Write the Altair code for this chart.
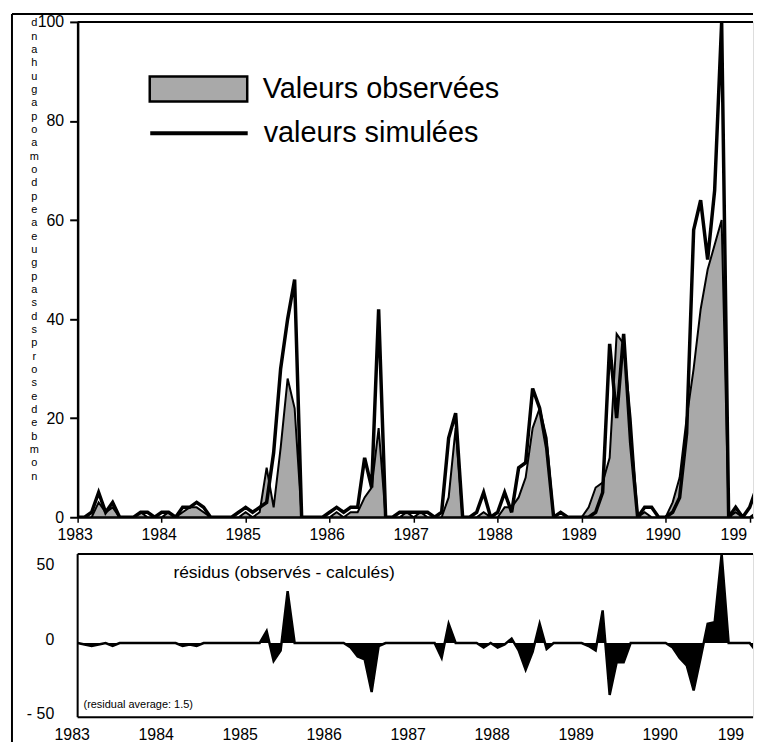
import altair as alt
import pandas as pd

# ---------------- data (monthly, Jan 1983 = month 0) ----------------
months = list(range(98))

simulated = [
    0, 0, 1, 5, 1, 3, 0, 0, 0, 1, 1, 0,
    1, 1, 0, 2, 2, 3, 2, 0, 0, 0, 0, 1,
    2, 1, 2, 3, 13, 30, 40, 48, 0, 0, 0, 0,
    1, 2, 1, 2, 2, 12, 6, 42, 0, 0, 1, 1,
    1, 1, 1, 0, 1, 16, 21, 0, 0, 1, 5, 0,
    1, 5, 1, 10, 11, 26, 22, 14, 0, 1, 0, 0,
    0, 0, 1, 5, 35, 20, 37, 15, 0, 2, 2, 0,
    0, 1, 4, 17, 58, 64, 52, 66, 100, 0, 2, 0,
    2, 6,
]

observed = [
    0, 0, 0, 3, 1, 2, 0, 0, 0, 1, 0, 0,
    0, 1, 0, 1, 2, 2, 1, 0, 0, 0, 0, 0,
    1, 0, 1, 10, 2, 14, 28, 22, 0, 0, 0, 0,
    0, 1, 0, 1, 1, 4, 6, 18, 0, 0, 0, 1,
    0, 1, 0, 0, 0, 4, 18, 0, 0, 0, 1, 0,
    0, 2, 2, 4, 8, 18, 22, 16, 0, 0, 0, 0,
    0, 2, 6, 7, 12, 37, 35, 20, 0, 1, 0, 0,
    0, 3, 8, 20, 30, 42, 50, 55, 60, 0, 1, 0,
    0, 1,
]

residuals = [
    0, -1, -2, -1, 0, -2, 0, 0, 0, 0, 0, 0,
    0, 0, 0, -2, -1, -2, 0, 0, 0, 0, 0, 0,
    0, 0, 0, 8, -12, -5, 35, 0, 0, 0, 0, 0,
    0, 0, 0, -3, -9, -11, -33, -2, 0, 0, 0, 0,
    0, 0, 0, 0, -10, 13, 0, 0, 0, 0, -3, 0,
    -3, -1, 3, -5, -18, -6, 13, -4, 0, 0, 0, 0,
    0, -2, -5, 22, -35, -13, -13, 0, 0, 0, 0, 0,
    0, -3, -10, -15, -32, -10, 13, 14, 60, 0, 0, 0,
    0, -6,
]

year_ticks = [1983, 1984, 1985, 1986, 1987, 1988, 1989, 1990, 1991]
top_y_ticks = [0, 20, 40, 60, 80, 100]
res_y_ticks = [-50, 0, 50]

obs_label = "Valeurs observées"
sim_label = "valeurs simulées"
res_title = "résidus (observés - calculés)"
res_note = "(residual average: 1.5)"

# vertical, letter-stacked y title as it appears on the scan
y_title_letters = list("dnahugapoamodpeaeugpasdsprosedebmon")

# ---------------- build ----------------
FONT = "Liberation Sans"
t = [1983 + m / 12 for m in months]
df = pd.DataFrame({"t": t, "obs": observed, "sim": simulated, "res": residuals,
                   "obs_s": obs_label, "sim_s": sim_label})

xscale = alt.Scale(domain=[1983, 1991.04], nice=False, zero=False)
W = 679
H_TOP = 498
H_RES = 164

last_label = "datum.value == 1991 ? '199' : datum.label"
last_align = {"condition": {"test": "datum.value == 1991", "value": "right"}, "value": "center"}

top_x_axis = alt.Axis(values=year_ticks, format="d", title=None, grid=False,
                      labelExpr=last_label, labelAlign=last_align,
                      labelFontSize=16, labelFont=FONT, labelColor="black",
                      tickSize=5, tickWidth=1.5, tickColor="black",
                      domainWidth=2, domainColor="black", labelPadding=4,
                      labelOffset=-3)

top_y_axis = alt.Axis(values=top_y_ticks, grid=False, title=y_title_letters,
                      titleAngle=0, titleX=-44, titleY=-5, titleBaseline="top",
                      titleAlign="center", titleFontSize=11, titleLineHeight=13.4,
                      titleFontWeight="normal", titleFont=FONT, titleColor="black",
                      labelFontSize=16, labelFont=FONT, labelColor="black",
                      tickSize=8, tickWidth=2, tickColor="black",
                      domainWidth=2.5, domainColor="black", labelPadding=6)

yscale_top = alt.Scale(domain=[0, 100], nice=False)

base = alt.Chart(df)

area = base.mark_area(stroke="black", strokeWidth=2, opacity=1, clip=True).encode(
    x=alt.X("t:Q", scale=xscale, axis=top_x_axis),
    y=alt.Y("obs:Q", scale=yscale_top, axis=top_y_axis),
    fill=alt.Fill("obs_s:N", scale=alt.Scale(range=["#a9a9a9"]),
                  legend=alt.Legend(title=None, orient="none", legendX=71, legendY=17,
                                    symbolType="M-1,-0.255H1V0.255H-1Z", symbolSize=9604,
                                    symbolStrokeColor="black", symbolStrokeWidth=2.5,
                                    labelFontSize=29, labelFont=FONT, labelColor="black",
                                    labelOffset=14, labelLimit=400, padding=0)),
)

line = base.mark_line(strokeWidth=3.5, clip=True).encode(
    x=alt.X("t:Q", scale=xscale),
    y=alt.Y("sim:Q", scale=yscale_top),
    stroke=alt.Stroke("sim_s:N", scale=alt.Scale(range=["black"]),
                      legend=alt.Legend(title=None, orient="none", legendX=71, legendY=61,
                                        symbolType="stroke", symbolSize=9604,
                                        symbolStrokeWidth=4,
                                        labelFontSize=29, labelFont=FONT, labelColor="black",
                                        labelOffset=14, labelLimit=400, padding=0)),
)

one = alt.Chart(pd.DataFrame({"k": [0]}))
# page border of the scan and the plot frame top
frame_left = one.mark_rule(color="black", strokeWidth=2).encode(
    x=alt.value(-66), y=alt.value(-8), y2=alt.value(724))
frame_top = one.mark_rule(color="black", strokeWidth=2).encode(
    x=alt.value(-66), x2=alt.value(W), y=alt.value(-8))
plot_top = one.mark_rule(color="black", strokeWidth=2).encode(
    x=alt.value(0), x2=alt.value(W), y=alt.value(0))

top = alt.layer(area, line, frame_left, frame_top, plot_top).properties(
    width=W, height=H_TOP)

# ---------------- residual panel ----------------
yscale_res = alt.Scale(domain=[-50, 60], nice=False)
res_x_axis = alt.Axis(values=year_ticks, format="d", title=None, grid=False,
                      labelExpr=last_label, labelAlign=last_align,
                      labelFontSize=16, labelFont=FONT, labelColor="black",
                      ticks=False, domain=False, labelPadding=9, labelOffset=-6)
res_y_axis = alt.Axis(values=res_y_ticks, title=None, grid=False,
                      labelExpr="datum.value < 0 ? '- ' + abs(datum.value) : datum.label",
                      labelFontSize=16, labelFont=FONT, labelColor="black",
                      ticks=False, domain=False, labelPadding=24, labelOffset=-4)

res_area = base.mark_area(color="black", opacity=1, clip=True).encode(
    x=alt.X("t:Q", scale=xscale, axis=res_x_axis),
    y=alt.Y("res:Q", scale=yscale_res, axis=res_y_axis),
)
res_line = base.mark_line(color="black", strokeWidth=2.5, clip=True).encode(
    x=alt.X("t:Q", scale=xscale),
    y=alt.Y("res:Q", scale=yscale_res),
)

ann = pd.DataFrame({"t": [1984.14, 1983.07], "v": [47.5, -41.5],
                    "label": [res_title, res_note]})
ann_title = alt.Chart(ann.iloc[[0]]).mark_text(align="left", baseline="middle",
                                               font=FONT, fontSize=17.5, color="black").encode(
    x="t:Q", y="v:Q", text="label:N")
ann_note = alt.Chart(ann.iloc[[1]]).mark_text(align="left", baseline="middle",
                                              font=FONT, fontSize=11, color="black").encode(
    x="t:Q", y="v:Q", text="label:N")

res_top = one.mark_rule(color="black", strokeWidth=2).encode(
    x=alt.value(0), x2=alt.value(W), y=alt.value(0))
res_bottom = one.mark_rule(color="black", strokeWidth=2).encode(
    x=alt.value(0), x2=alt.value(W), y=alt.value(H_RES))
res_left = one.mark_rule(color="black", strokeWidth=2).encode(
    x=alt.value(0), y=alt.value(0), y2=alt.value(H_RES))

bottom = alt.layer(res_area, res_line, ann_title, ann_note,
                   res_top, res_bottom, res_left).properties(width=W, height=H_RES)

chart = alt.vconcat(top, bottom, spacing=37, bounds="flush").properties(
    padding={"left": 2, "top": 2, "right": 0, "bottom": 0}
).configure_view(strokeWidth=0).configure(font=FONT)

chart.save("out.html", embed_options={"renderer": "svg", "actions": False})
